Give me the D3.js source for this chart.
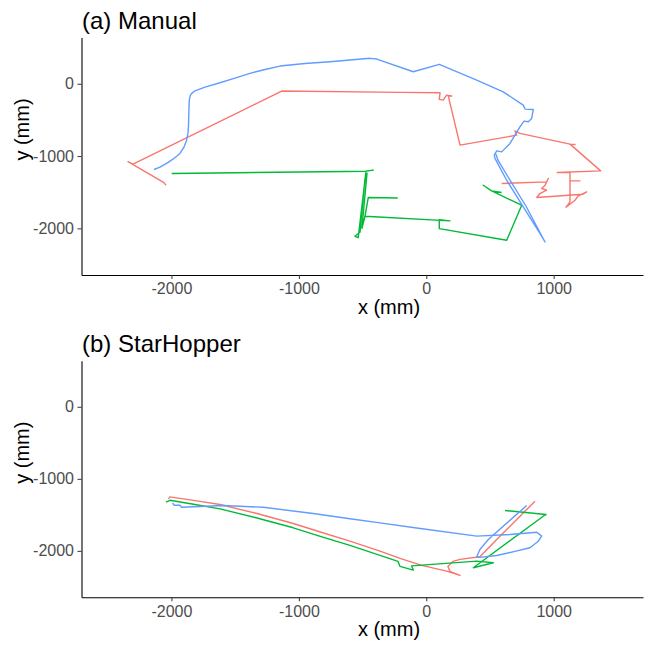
<!DOCTYPE html>
<html>
<head>
<meta charset="utf-8">
<script src="https://cdn.jsdelivr.net/npm/d3@7"></script>
<style>
  body { margin: 0; background: #fff; }
  svg { display: block; font-family: "Liberation Sans", Arial, sans-serif; }
  .tick text { fill: #4d4d4d; font-size: 16px; }
  .tick line { stroke: #333; }
  .domain { stroke: #000; }
</style>
</head>
<body>
<svg id="chart"></svg>
<script>
// paths in mm
const manualRed = [
  [-2043, -1403], [-2059, -1368], [-2341, -1078], [-2302, -1112], [-1135, -101],
  [-206, -119], [108, -125], [102, -216], [133, -226], [160, -157], [199, -170],
  [173, -170], [265, -849], [710, -711], [696, -651], [735, -687], [1128, -835],
  [1167, -839], [1128, -835], [1369, -1205], [1028, -1227], [1128, -1227],
  [1128, -1343], [1206, -1343], [1128, -1343], [1128, -1634], [1097, -1708],
  [1167, -1611], [1191, -1555], [1259, -1496], [1230, -1528], [867, -1573],
  [892, -1518], [945, -1472], [906, -1449], [932, -1403], [945, -1357],
  [958, -1310], [945, -1357], [592, -1379]
];
const manualGreen = [
  [-1998, -1241], [-468, -1209], [-416, -1195], [-473, -1209], [-534, -2127],
  [-560, -2109], [-520, -2054], [-481, -1306], [-465, -1237], [-505, -1999],
  [-481, -1832], [-455, -1573], [-228, -1579], [-455, -1573], [-481, -1832],
  [186, -1897], [102, -1881], [102, -2003], [631, -2165], [749, -1680],
  [513, -1482], [447, -1403], [513, -1482], [592, -1504]
];
const manualBlue = [
  [-2137, -1186], [-2090, -1154], [-2038, -1102], [-1988, -1043], [-1933, -964],
  [-1902, -877], [-1881, -780], [-1870, -683], [-1866, -572], [-1863, -364],
  [-1860, -226], [-1852, -160], [-1841, -133], [-1815, -97], [-1737, -46],
  [-1619, 14], [-1502, 79], [-1384, 144], [-1266, 197], [-1148, 245],
  [-952, 280], [-756, 305], [-599, 328], [-442, 352], [-389, 342], [-102, 166],
  [102, 269], [396, 51], [604, -111], [761, -295], [775, -350], [840, -355],
  [827, -479], [801, -526], [767, -517], [735, -596], [696, -711], [657, -825],
  [592, -942], [553, -928], [534, -988], [539, -1033], [631, -1334], [761, -1704],
  [892, -2068], [932, -2188], [908, -2109], [783, -1694], [657, -1334],
  [563, -1057], [547, -974]
];
const hopperRed = [
  [-2025, -1278], [-2012, -1251], [-1815, -1302], [-1619, -1357], [-1329, -1482],
  [-1044, -1620], [-819, -1745], [-599, -1866], [-363, -2004], [-206, -2105],
  [-36, -2202], [160, -2281], [265, -2341], [186, -2285], [170, -2216],
  [209, -2147], [265, -2119], [421, -2082], [553, -1842], [853, -1312]
];
const hopperGreen = [
  [-2043, -1325], [-2012, -1298], [-1815, -1357], [-1619, -1417], [-1329, -1544],
  [-1044, -1680], [-819, -1807], [-599, -1925], [-363, -2064], [-222, -2147],
  [-206, -2216], [-102, -2267], [-115, -2209], [396, -2143], [526, -2165],
  [369, -2234], [918, -1519], [940, -1496], [618, -1440]
];
const hopperBlue = [
  [-1991, -1334], [-1980, -1367], [-1933, -1367], [-1920, -1395], [-1593, -1371],
  [-1279, -1395], [-887, -1482], [-599, -1555], [-363, -1611], [-76, -1683],
  [396, -1796], [657, -1773], [867, -1741], [906, -1796], [877, -1870],
  [814, -1957], [696, -2008], [553, -2064], [421, -2091], [396, -2082],
  [421, -1981], [487, -1842], [788, -1371]
];
const seriesColors = ["#F8766D", "#00BA38", "#619CFF"];
const xTicks = [-2000, -1000, 0, 1000];
const yTicks = [-2000, -1000, 0];
const panelTitles = ["(a) Manual", "(b) StarHopper"];

const W = 649, H = 650;
const svg = d3.select("#chart").attr("width", W).attr("height", H);

const left = 81.5, right = 643;
const x = d3.scaleLinear().domain([-2706, 1701]).range([left, right]);

const panels = [
  { title: panelTitles[0], top: 37.5, bottom: 275, series: [manualRed, manualGreen, manualBlue] },
  { title: panelTitles[1], top: 360.7, bottom: 597.3, series: [hopperRed, hopperGreen, hopperBlue] }
];

const plain = d3.format("d");
function tickFmt(d) { return plain(d).replace("\u2212", "-"); }

panels.forEach(function(p) {
  const y = d3.scaleLinear().domain([-2645, 640]).range([p.bottom, p.top]);
  const g = svg.append("g");

  const line = d3.line()
    .x(function(d) { return x(d[0]); })
    .y(function(d) { return y(d[1]); });

  g.selectAll(".trace")
    .data(p.series)
    .enter()
    .append("path")
    .attr("class", "trace")
    .attr("d", line)
    .attr("fill", "none")
    .attr("stroke", function(d, i) { return seriesColors[i]; })
    .attr("stroke-width", 1.4)
    .attr("stroke-linejoin", "round");

  g.append("g")
    .attr("transform", "translate(0," + p.bottom + ")")
    .call(d3.axisBottom(x).tickValues(xTicks).tickSize(4).tickSizeOuter(0).tickPadding(4).tickFormat(tickFmt))
    .call(function(a) { a.select(".domain").attr("stroke-width", 1.1); });

  g.append("g")
    .attr("transform", "translate(" + left + ",0)")
    .call(d3.axisLeft(y).tickValues(yTicks).tickSize(4).tickSizeOuter(0).tickPadding(3.5).tickFormat(tickFmt))
    .call(function(a) { a.select(".domain").attr("stroke-width", 1.1); });

  g.selectAll(".tick text").attr("font-family", null).attr("font-size", null);

  g.append("text")
    .attr("x", 82)
    .attr("y", p.top - 9)
    .attr("font-size", 24)
    .attr("fill", "#000")
    .text(p.title);

  g.append("text")
    .attr("x", 389)
    .attr("y", p.bottom + 39)
    .attr("text-anchor", "middle")
    .attr("font-size", 20)
    .attr("fill", "#000")
    .text("x (mm)");

  g.append("text")
    .attr("transform", "translate(29," + (p.top + 92) + ") rotate(-90)")
    .attr("text-anchor", "middle")
    .attr("font-size", 20)
    .attr("fill", "#000")
    .text("y (mm)");
});
</script>
</body>
</html>
